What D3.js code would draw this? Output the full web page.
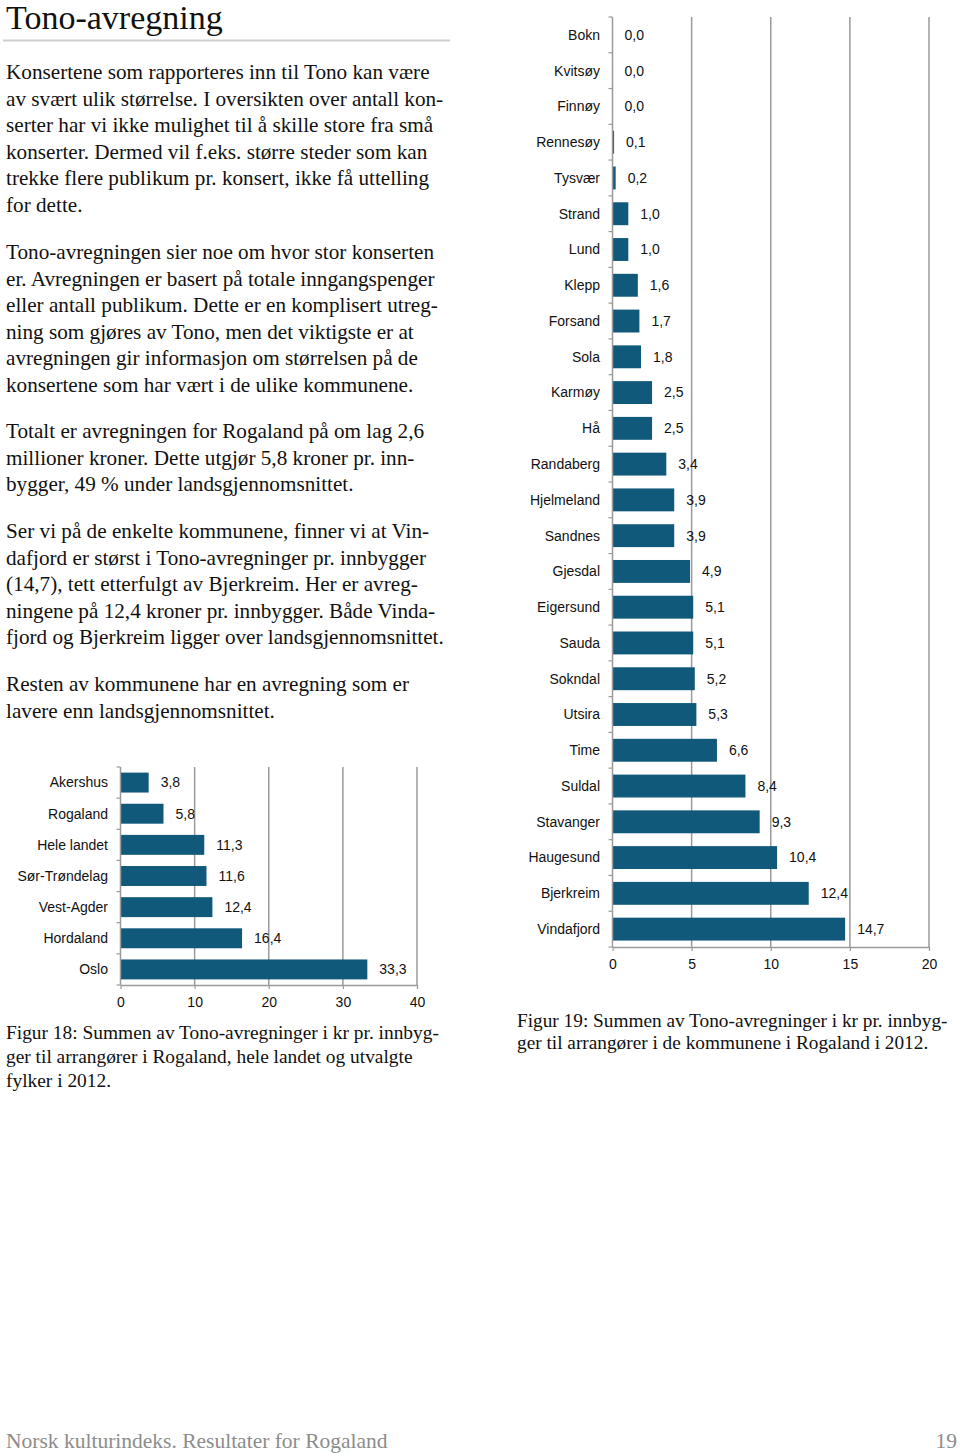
<!DOCTYPE html>
<html><head><meta charset="utf-8">
<script src="https://cdn.jsdelivr.net/npm/d3@7"></script>
<style>
html,body{margin:0;padding:0;background:#fff;}
svg{display:block;}
</style></head>
<body>
<svg id="page" width="960" height="1453"></svg>
<script>
// ---- data ----
const fylkeCategories = ["Akershus","Rogaland","Hele landet","Sør-Trøndelag","Vest-Agder","Hordaland","Oslo"];
const fylkeValues = [3.8,5.8,11.3,11.6,12.4,16.4,33.3];
const fylkeTicks = [0,10,20,30,40];

const kommuneCategories = ["Bokn","Kvitsøy","Finnøy","Rennesøy","Tysvær","Strand","Lund","Klepp","Forsand","Sola","Karmøy","Hå","Randaberg","Hjelmeland","Sandnes","Gjesdal","Eigersund","Sauda","Sokndal","Utsira","Time","Suldal","Stavanger","Haugesund","Bjerkreim","Vindafjord"];
const kommuneValues = [0.0,0.0,0.0,0.1,0.2,1.0,1.0,1.6,1.7,1.8,2.5,2.5,3.4,3.9,3.9,4.9,5.1,5.1,5.2,5.3,6.6,8.4,9.3,10.4,12.4,14.7];
const kommuneTicks = [0,5,10,15,20];

const titleText = "Tono-avregning";
const bodyParagraphs = [
 ["Konsertene som rapporteres inn til Tono kan være","av svært ulik størrelse. I oversikten over antall kon-","serter har vi ikke mulighet til å skille store fra små","konserter. Dermed vil f.eks. større steder som kan","trekke flere publikum pr. konsert, ikke få uttelling","for dette."],
 ["Tono-avregningen sier noe om hvor stor konserten","er. Avregningen er basert på totale inngangspenger","eller antall publikum. Dette er en komplisert utreg-","ning som gjøres av Tono, men det viktigste er at","avregningen gir informasjon om størrelsen på de","konsertene som har vært i de ulike kommunene."],
 ["Totalt er avregningen for Rogaland på om lag 2,6","millioner kroner. Dette utgjør 5,8 kroner pr. inn-","bygger, 49 % under landsgjennomsnittet."],
 ["Ser vi på de enkelte kommunene, finner vi at Vin-","dafjord er størst i Tono-avregninger pr. innbygger","(14,7), tett etterfulgt av Bjerkreim. Her er avreg-","ningene på 12,4 kroner pr. innbygger. Både Vinda-","fjord og Bjerkreim ligger over landsgjennomsnittet."],
 ["Resten av kommunene har en avregning som er","lavere enn landsgjennomsnittet."]
];
const caption18 = ["Figur 18: Summen av Tono-avregninger i kr pr. innbyg-","ger til arrangører i Rogaland, hele landet og utvalgte","fylker i 2012."];
const caption19 = ["Figur 19: Summen av Tono-avregninger i kr pr. innbyg-","ger til arrangører i de kommunene i Rogaland i 2012."];
const footerText = "Norsk kulturindeks. Resultater for Rogaland";
const pageNumber = "19";

// ---- drawing ----
const svg = d3.select("#page");
const serif = "'Liberation Serif','DejaVu Serif',serif";
const sans = "'Liberation Sans',Arial,sans-serif";
const barColor = "#10597a";
const gridColor = "#9a9a9a";
const fmt = v => d3.format(".1f")(v).replace(".", ",");

svg.append("text").attr("x",6).attr("y",29).attr("font-family",serif).attr("font-size",34)
  .attr("fill","#111").text(titleText);
svg.append("line").attr("x1",3).attr("x2",450).attr("y1",40.5).attr("y2",40.5)
  .attr("stroke","#cfcfcf").attr("stroke-width",2);

const paraStarts = [73,253,432,532,685];
const lineH = 26.6;
bodyParagraphs.forEach((p,i)=>{
  p.forEach((ln,j)=>{
    svg.append("text").attr("x",6).attr("y",paraStarts[i]+j*lineH+6)
      .attr("font-family",serif).attr("font-size",21.2).attr("fill","#111").text(ln);
  });
});
caption18.forEach((ln,j)=>{
  svg.append("text").attr("x",6).attr("y",1033+j*24+6).attr("font-family",serif)
    .attr("font-size",19.4).attr("fill","#111").text(ln);
});
caption19.forEach((ln,j)=>{
  svg.append("text").attr("x",517).attr("y",1021+j*22+6).attr("font-family",serif)
    .attr("font-size",19.3).attr("fill","#111").text(ln);
});
svg.append("text").attr("x",6).attr("y",1448).attr("font-family",serif).attr("font-size",21.5)
  .attr("fill","#8c8c8c").text(footerText);
svg.append("text").attr("x",957).attr("y",1448).attr("text-anchor","end").attr("font-family",serif)
  .attr("font-size",21.5).attr("fill","#8c8c8c").text(pageNumber);

function barChart(opt){
  const g = svg.append("g");
  const x = d3.scaleLinear().domain(opt.domain).range([opt.x0,opt.x1]);
  const y = d3.scaleBand().domain(opt.cats).range([opt.y0,opt.y1]).paddingInner(0.36).paddingOuter(0.18);
  const yb = d3.scaleBand().domain(opt.cats).range([opt.y0,opt.y1]);
  // gridlines
  g.selectAll(".grid").data(opt.ticks.slice(1)).join("line")
    .attr("x1",d=>x(d)).attr("x2",d=>x(d)).attr("y1",opt.y0).attr("y2",opt.y1)
    .attr("stroke",gridColor).attr("stroke-width",1.5);
  // bars
  g.selectAll(".bar").data(opt.vals).join("rect")
    .attr("x",x(0)).attr("y",(d,i)=>y(opt.cats[i]))
    .attr("width",d=>Math.max(0,x(d)-x(0))).attr("height",y.bandwidth())
    .attr("fill",barColor);
  // value labels
  g.selectAll(".val").data(opt.vals).join("text")
    .attr("x",d=>x(d)+12).attr("y",(d,i)=>y(opt.cats[i])+y.bandwidth()/2)
    .attr("dy","0.35em").attr("font-family",sans).attr("font-size",14).attr("fill","#111")
    .text(d=>fmt(d));
  // y axis
  g.append("line").attr("x1",x(0)).attr("x2",x(0)).attr("y1",opt.y0).attr("y2",opt.y1)
    .attr("stroke",gridColor).attr("stroke-width",1.5);
  const bounds = opt.cats.map(c=>yb(c)).concat([opt.y1]);
  g.selectAll(".yt").data(bounds).join("line")
    .attr("x1",x(0)-4).attr("x2",x(0)).attr("y1",d=>d).attr("y2",d=>d)
    .attr("stroke",gridColor).attr("stroke-width",1.2);
  g.selectAll(".cat").data(opt.cats).join("text")
    .attr("x",opt.labelX).attr("y",d=>yb(d)+yb.bandwidth()/2).attr("dy","0.35em")
    .attr("text-anchor","end").attr("font-family",sans).attr("font-size",14).attr("fill","#111")
    .text(d=>d);
  // x axis
  const xa = g.append("g").attr("transform",`translate(0,${opt.y1})`)
    .call(d3.axisBottom(x).tickValues(opt.ticks).tickSize(4).tickPadding(8).tickSizeOuter(0));
  xa.select(".domain").attr("stroke",gridColor).attr("stroke-width",1.5);
  xa.selectAll(".tick line").attr("stroke",gridColor).attr("stroke-width",1.2);
  xa.selectAll(".tick text").attr("font-family",sans).attr("font-size",14).attr("fill","#111");
}

barChart({cats:fylkeCategories, vals:fylkeValues, ticks:fylkeTicks, domain:[0,40],
  x0:120.5, x1:417, y0:767, y1:985, labelX:108});
barChart({cats:kommuneCategories, vals:kommuneValues, ticks:kommuneTicks, domain:[0,20],
  x0:612.5, x1:929, y0:17, y1:947, labelX:600});
</script>
</body></html>
